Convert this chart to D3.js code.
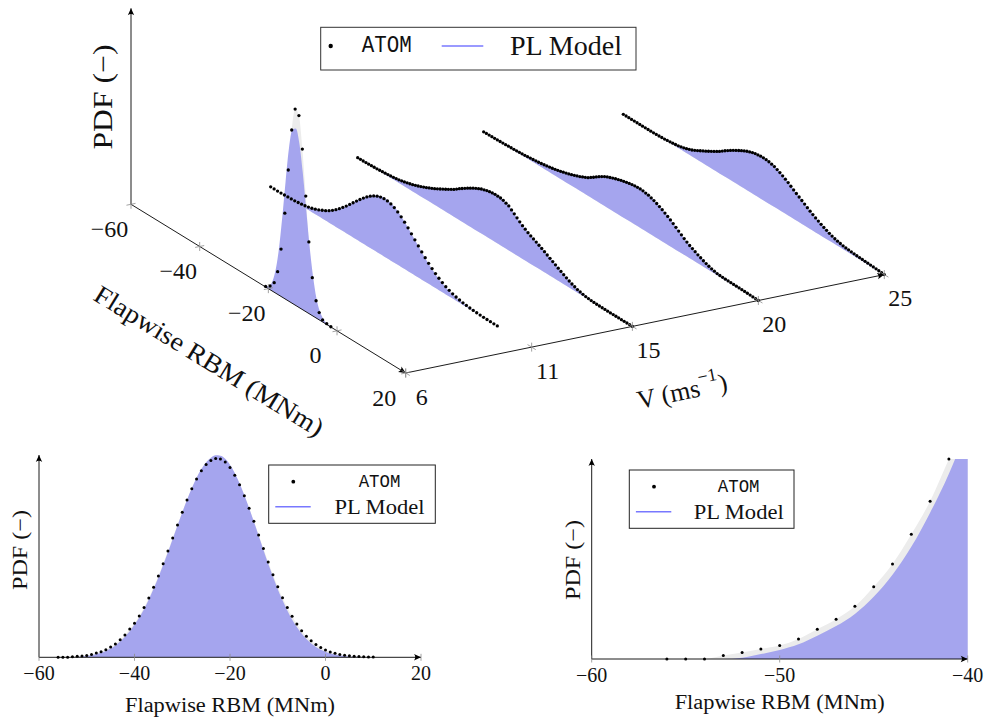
<!DOCTYPE html>
<html><head><meta charset="utf-8">
<script src="https://cdn.jsdelivr.net/npm/d3@7"></script>
<style>
body{margin:0;background:#fff;}
svg text{font-family:"Liberation Serif","DejaVu Serif","Times New Roman",serif;fill:#111;}
svg text.mono{font-family:"Liberation Mono","DejaVu Sans Mono",monospace;}
</style></head><body>
<svg id="chart" width="990" height="722"></svg>
<script>
// ---------- data (PDF values in units of 1e-3 per MNm) ----------
const slicesV = [6, 11, 15, 20, 25];
const rbmTicks3D = [-60, -40, -20, 0, 20];
const vTicks = [6, 11, 15, 20, 25];
const rbmTicksLeft = [-60, -40, -20, 0, 20];
const rbmTicksRight = [-60, -50, -40];

// V = 6 m/s
const rbm6 = [-20.8,-19.5,-18.3,-17.3,-16.3,-15.2,-14.2,-13.2,-12.2,-11.1,-10.1,-9.1,-8.2,-7.2,-6.1,-5.2,-4.2,-3.0,-1.8];
const atom6 = [0.5,3.7,9.6,22.7,47.4,85.6,130.9,173,196,191.8,160.5,115.6,71.6,38,17.2,7.3,2,0.8,0.3];
const plRbm6 = [-22,-21,-20,-19,-18,-17,-16,-15,-14,-13,-12,-11,-10,-9,-8,-7,-6,-5,-4,-3,-2,-1];
const pl6 = [0,0.5,2.5,8,21,44,78,117,153,174,177,165,138,103,68,40,20,9,3.5,1.2,0.4,0.1];

// V = 11 m/s
const rbm11 = d3.range(-56, 11, 1);
const atom11 = [0,0,0,0.14,0.27,0.41,0.55,0.82,1.22,1.63,2.16,2.96,3.9,5.11,6.47,8.2,
  9.87,12.03,14.5,17.27,20.33,23.65,27.18,30.89,34.68,38.48,42.19,45.72,48.96,51.82,54.2,56.02,57.23,57.77,
  57.62,56.74,55.16,52.94,50.16,46.93,43.34,39.52,35.57,31.61,27.73,24.02,20.54,17.34,14.46,11.9,9.66,7.74,6.13,4.8,3.7,2.82,2.12,1.57,1.16,0.84,0.6,0.42,0.29,0.2,0.14,0.09,0.06];
const pl11 = [0,0,0,0,0.05,0.2,0.37,0.6,0.95,1.35,1.85,2.55,3.45,4.6,6.0,7.6,
  9.5,11.6,14.0,16.8,19.9,23.2,26.8,30.5,34.4,38.3,42.1,45.8,49.2,52.2,54.7,56.7,58.0,58.7,
  58.6,57.7,56.0,53.6,50.6,47.2,43.4,39.4,35.3,31.2,27.2,23.4,19.8,16.6,13.6,11.0,8.8,6.9,5.3,4.0,3.0,2.2,1.6,1.1,0.8,0.5,0.35,0.22,0.13,0.07,0.03,0.01,0];

// V = 15 m/s (ATOM sampled every 0.8 MNm from -60)
const rbm15 = d3.range(0, 101).map(k => -60 + 0.8 * k);
const atom15 = [0,0.04,0.08,0.16,0.28,0.4,0.56,0.72,0.92,1.16,1.4,1.68,1.96,2.32,2.76,3.2,3.84,4.48,5.2,6.0,
  6.8,7.8,8.8,9.9,11.1,12.3,13.6,14.9,16.3,17.8,19.3,20.9,22.4,24.0,25.7,27.3,29.3,31.4,33.3,35.2,
  37.0,38.7,40.4,41.9,43.2,44.6,45.5,46.4,47.0,47.4,47.7,47.6,47.4,46.8,45.6,44.5,42.2,40.0,37.7,35.4,
  33.2,31.4,29.6,28.0,26.7,25.3,23.8,22.3,20.7,19.1,17.5,15.9,14.3,12.7,11.1,9.5,8.1,6.6,5.3,4.2,
  3.1,2.4,1.7,1.1,0.8,0.5,0.3,0.2,0.15,0.1,0.05,0,0,0,0,0,0,0,0,0,0];
const plRbm15 = d3.range(-60, 21, 2);
const pl15 = [0,0.1,0.4,0.8,1.4,2.1,3.2,4.8,6.8,9.3,12.3,15.6,19.3,23.2,27.3,32.4,37,41.2,44.6,46.8,
  47.7,47.3,44.5,38.8,33.2,28.7,25.3,21.5,17.5,13.5,9.5,5.9,3.1,1.3,0.5,0.2,0.05,0,0,0,0];

// V = 20 m/s
const rbm20 = d3.range(0, 101).map(k => -60 + 0.8 * k);
const atom20 = [0,0.04,0.08,0.14,0.22,0.3,0.42,0.54,0.66,0.78,0.9,1.06,1.22,1.4,1.6,1.8,2.08,2.36,2.66,2.98,
  3.3,3.74,4.18,4.66,5.18,5.7,6.34,6.98,7.7,8.5,9.3,10.2,11.1,12.1,13.2,14.3,15.6,16.9,18.2,20.2,
  22.0,24.0,26.0,27.8,29.4,30.8,31.9,33.0,34.0,34.9,35.8,36.5,37.2,37.8,38.3,38.8,38.9,39.0,38.8,38.3,
  37.8,36.8,35.8,34.6,33.2,31.8,30.1,28.4,26.6,24.6,22.6,20.5,18.4,16.4,14.6,12.8,11.4,10.0,8.6,7.3,
  6.0,4.9,3.9,3.0,2.3,1.6,1.4,1.2,1.05,0.97,0.9,0.86,0.82,0.78,0.7,0.6,0.48,0.36,0.24,0.12,0];
const plRbm20 = d3.range(-60, 21, 2);
const pl20 = [0,0.1,0.3,0.6,0.9,1.3,1.8,2.5,3.3,4.4,5.7,7.3,9.3,11.6,14.3,17.5,22.0,27.0,30.8,33.5,
  35.8,37.6,38.8,39.0,37.8,35.3,31.8,27.6,22.6,17.3,12.8,9.3,6.0,3.4,1.6,1.1,0.9,0.8,0.6,0.3,0];

// V = 25 m/s (ATOM sampled every 0.8 MNm from -56)
const rbm25 = d3.range(0, 96).map(k => -56 + 0.8 * k);
const atom25 = [0,0,0,0,0,0,0,0,0.01,0.03,0.05,0.1,0.17,0.28,0.44,0.6,0.88,1.16,1.5,1.9,
  2.3,2.98,3.66,4.5,5.5,6.5,7.9,9.3,10.8,12.3,13.8,15.4,17.0,18.6,20.3,22.0,24.0,26.0,27.9,29.7,
  31.5,33.1,34.7,36.2,37.6,39.0,40.0,41.0,41.7,42.1,42.5,42.5,42.4,42.0,41.3,40.5,39.2,37.9,36.4,34.7,
  33.0,31.0,29.0,27.1,25.3,23.5,21.6,19.7,17.9,16.2,14.5,13.0,11.5,10.1,8.8,7.5,6.5,5.5,4.7,4.1,
  3.5,3.1,2.8,2.5,2.25,2.0,1.85,1.7,1.5,1.3,1.1,0.9,0.7,0.5,0.25,0];
const plRbm25 = d3.range(-56, 21, 2);
const pl25 = [0,0,0,0,0.05,0.2,0.6,1.3,2.3,4,6.5,10,13.8,17.8,22,27,31.5,35.5,39,41.5,
  42.5,42.4,40.5,37.3,33,28,23.5,18.8,14.5,10.7,7.5,5,3.5,2.6,2,1.6,1.1,0.6,0];

const sliceData = [
  {v: 6,  rbm: rbm6,  atom: atom6,  plRbm: plRbm6,  pl: pl6},
  {v: 11, rbm: rbm11, atom: atom11, plRbm: rbm11,   pl: pl11},
  {v: 15, rbm: rbm15, atom: atom15, plRbm: plRbm15, pl: pl15},
  {v: 20, rbm: rbm20, atom: atom20, plRbm: plRbm20, pl: pl20},
  {v: 25, rbm: rbm25, atom: atom25, plRbm: plRbm25, pl: pl25}
];

// ---------- styling ----------
const BLUE_FILL = "#a5a5ee", ATOM_FILL = "#ececec", LEG_LINE = "#7878ff", TICK = "#8a8a8a";
const fmt = d => d < 0 ? "\u2212" + Math.abs(d) : String(d);
const zip = (xs, ys) => xs.map((x, i) => [x, ys[i]]);

const svg = d3.select("#chart");
const defs = svg.append("defs");
defs.append("marker").attr("id", "arr").attr("viewBox", "-8 -4 9 8")
  .attr("refX", 0).attr("refY", 0).attr("markerWidth", 9).attr("markerHeight", 8)
  .attr("markerUnits", "userSpaceOnUse").attr("orient", "auto")
  .append("path").attr("d", "M0,0 L-7,-3.2 Q-4.5,0 -7,3.2 Z").attr("fill", "#000");

// ---------- 3-D waterfall ----------
const O = {x: 131, y: 204.3};
const rbmDx = d3.scaleLinear().domain([-60, 20]).range([0, 274.7]);
const rbmDy = d3.scaleLinear().domain([-60, 20]).range([0, 168.7]);
const vDx = d3.scaleLinear().domain([6, 25]).range([0, 478.6]);
const vDy = d3.scaleLinear().domain([6, 25]).range([0, -98.4]);
const zDy = d3.scaleLinear().domain([0, 200]).range([0, -200]);
const P = (r, v, z = 0) => [O.x + rbmDx(r) + vDx(v), O.y + rbmDy(r) + vDy(v) + zDy(z)];

const g3 = svg.append("g");
sliceData.forEach(s => {
  const area = d3.area()
    .x(d => P(d[0], s.v)[0])
    .y0(d => P(d[0], s.v, 0)[1])
    .y1(d => P(d[0], s.v, d[1])[1])
    .curve(d3.curveMonotoneX);
  g3.append("path").attr("d", area(zip(s.rbm, s.atom))).attr("fill", ATOM_FILL);
  g3.append("path").attr("d", area(zip(s.plRbm, s.pl))).attr("fill", BLUE_FILL);
  g3.append("g").selectAll("circle").data(zip(s.rbm, s.atom)).join("circle")
    .attr("cx", d => P(d[0], s.v, d[1])[0]).attr("cy", d => P(d[0], s.v, d[1])[1])
    .attr("r", 1.65).attr("fill", "#000");
});

// axes
const ax3 = svg.append("g").attr("stroke", "#000").attr("stroke-width", 0.9).attr("fill", "none");
const line = d3.line();
ax3.append("path").attr("d", line([P(-60, 6, 0), P(-60, 6, 196)])).attr("marker-end", "url(#arr)");
ax3.append("path").attr("d", line([P(-60, 6, 0), P(20, 6, 0)])).attr("marker-end", "url(#arr)");
ax3.append("path").attr("d", line([P(20, 6, 0), P(20, 25, 0)])).attr("marker-end", "url(#arr)");

const tk = svg.append("g").attr("stroke", TICK).attr("stroke-width", 0.8);
rbmTicks3D.forEach(r => {
  const [x, y] = P(r, 6);
  const [x1, y1] = P(r, 6.18), [x0, y0] = P(r, 5.82);
  tk.append("line").attr("x1", x0).attr("y1", y0).attr("x2", x1).attr("y2", y1);
  tk.append("line").attr("x1", x).attr("y1", y - 4.5).attr("x2", x).attr("y2", y + 4.5);
  svg.append("text").attr("x", x - 21.5).attr("y", y + 24.5).attr("text-anchor", "middle")
    .attr("dominant-baseline", "central").attr("font-size", 24).text(fmt(r));
});
vTicks.forEach(v => {
  const [x, y] = P(20, v);
  const [x0, y0] = P(18.8, v), [x1, y1] = P(21.2, v);
  tk.append("line").attr("x1", x0).attr("y1", y0).attr("x2", x1).attr("y2", y1);
  tk.append("line").attr("x1", x).attr("y1", y - 4.5).attr("x2", x).attr("y2", y + 4.5);
  svg.append("text").attr("x", x + 16).attr("y", y + 23.5).attr("text-anchor", "middle")
    .attr("dominant-baseline", "central").attr("font-size", 24).text(fmt(v));
});

svg.append("text").attr("transform", "translate(103,97) rotate(-90)").attr("text-anchor", "middle")
  .attr("dominant-baseline", "central").attr("font-size", 27)
  .attr("textLength", 105).attr("lengthAdjust", "spacingAndGlyphs").text("PDF (\u2212)");
svg.append("text").attr("transform", "translate(209,361) rotate(31.55)").attr("text-anchor", "middle")
  .attr("dominant-baseline", "central").attr("font-size", 26)
  .attr("textLength", 264).attr("lengthAdjust", "spacingAndGlyphs").text("Flapwise RBM (MNm)");
const vl = svg.append("text").attr("transform", "translate(682,391) rotate(-11.6)").attr("text-anchor", "middle")
  .attr("dominant-baseline", "central").attr("font-size", 26);
vl.append("tspan").text("V (ms");
vl.append("tspan").attr("font-size", 18).attr("baseline-shift", "super").text("\u22121");
vl.append("tspan").text(")");

// 3-D legend
const lg = svg.append("g");
lg.append("rect").attr("x", 320.7).attr("y", 27.3).attr("width", 315.3).attr("height", 42.7)
  .attr("fill", "#fff").attr("stroke", "#333").attr("stroke-width", 1);
lg.append("circle").attr("cx", 330.7).attr("cy", 46).attr("r", 2.2).attr("fill", "#000");
lg.append("text").attr("class", "mono").attr("x", 361.7).attr("y", 46).attr("dominant-baseline", "central")
  .attr("font-size", 23).attr("textLength", 50).attr("lengthAdjust", "spacingAndGlyphs").text("ATOM");
lg.append("line").attr("x1", 441.7).attr("x2", 483.3).attr("y1", 46).attr("y2", 46)
  .attr("stroke", LEG_LINE).attr("stroke-width", 1.6);
lg.append("text").attr("x", 510).attr("y", 46).attr("dominant-baseline", "central")
  .attr("font-size", 27).attr("textLength", 112).attr("lengthAdjust", "spacingAndGlyphs").text("PL Model");

// ---------- 2-D panels (V = 11 m/s) ----------
function panel(cfg) {
  const g = svg.append("g");
  const x = d3.scaleLinear().domain(cfg.xDomain).range(cfg.xRange);
  const y = d3.scaleLinear().domain(cfg.yDomain).range(cfg.yRange);
  const clipId = "clip" + cfg.id;
  defs.append("clipPath").attr("id", clipId).append("rect")
    .attr("x", cfg.xRange[0]).attr("y", cfg.yRange[1])
    .attr("width", cfg.xRange[1] - cfg.xRange[0]).attr("height", cfg.yRange[0] - cfg.yRange[1]);
  const area = d3.area().x(d => x(d[0])).y0(y(0)).y1(d => y(d[1])).curve(d3.curveMonotoneX);
  const inner = g.append("g").attr("clip-path", `url(#${clipId})`);
  inner.append("path").attr("d", area(zip(rbm11, atom11))).attr("fill", ATOM_FILL);
  inner.append("path").attr("d", area(zip(rbm11, pl11))).attr("fill", BLUE_FILL);
  g.append("g").selectAll("circle")
    .data(zip(rbm11, atom11).filter(d => d[0] >= cfg.xDomain[0] && d[0] <= cfg.xDomain[1] && d[1] <= cfg.yDomain[1] * 1.001))
    .join("circle").attr("cx", d => x(d[0])).attr("cy", d => y(d[1])).attr("r", 1.5).attr("fill", "#000");
  const y0 = y(0);
  g.append("line").attr("x1", cfg.xRange[0]).attr("x2", cfg.xRange[1]).attr("y1", y0).attr("y2", y0)
    .attr("stroke", "#000").attr("stroke-width", 0.9).attr("marker-end", "url(#arr)");
  g.append("line").attr("x1", cfg.xRange[0]).attr("x2", cfg.xRange[0]).attr("y1", y0).attr("y2", cfg.yRange[1])
    .attr("stroke", "#000").attr("stroke-width", 0.9).attr("marker-end", "url(#arr)");
  cfg.ticks.forEach(t => {
    g.append("line").attr("x1", x(t)).attr("x2", x(t)).attr("y1", y0 - 3.5).attr("y2", y0 + 3.5)
      .attr("stroke", TICK).attr("stroke-width", 0.8);
    g.append("text").attr("x", x(t)).attr("y", y0 + cfg.tickDy).attr("text-anchor", "middle")
      .attr("dominant-baseline", "central").attr("font-size", 20).text(fmt(t));
  });
  g.append("text").attr("x", d3.mean(cfg.xRange)).attr("y", cfg.xLabelY).attr("text-anchor", "middle")
    .attr("dominant-baseline", "central").attr("font-size", 20)
    .attr("textLength", 210).attr("lengthAdjust", "spacingAndGlyphs").text("Flapwise RBM (MNm)");
  g.append("text").attr("transform", `translate(${cfg.yLabelX},${cfg.yLabelY}) rotate(-90)`)
    .attr("text-anchor", "middle").attr("dominant-baseline", "central").attr("font-size", 21)
    .attr("textLength", 80).attr("lengthAdjust", "spacingAndGlyphs").text("PDF (\u2212)");
  const L = cfg.legend;
  g.append("rect").attr("x", L.x).attr("y", L.y).attr("width", L.w).attr("height", L.h)
    .attr("fill", "#fff").attr("stroke", "#222").attr("stroke-width", 1);
  g.append("circle").attr("cx", L.x + L.symX).attr("cy", L.y + 16.7).attr("r", 1.9).attr("fill", "#000");
  g.append("text").attr("class", "mono").attr("x", L.x + L.textX).attr("y", L.y + 16.7).attr("text-anchor", "middle")
    .attr("dominant-baseline", "central").attr("font-size", 19).attr("textLength", 41.7)
    .attr("lengthAdjust", "spacingAndGlyphs").text("ATOM");
  g.append("line").attr("x1", L.x + 6.6).attr("x2", L.x + 42).attr("y1", L.y + 41.7).attr("y2", L.y + 41.7)
    .attr("stroke", LEG_LINE).attr("stroke-width", 1.6);
  g.append("text").attr("x", L.x + L.textX).attr("y", L.y + 41.7).attr("text-anchor", "middle")
    .attr("dominant-baseline", "central").attr("font-size", 21).attr("textLength", 90)
    .attr("lengthAdjust", "spacingAndGlyphs").text("PL Model");
}

panel({id: "L", xDomain: [-60, 20], xRange: [39, 421], yDomain: [0, 58.8], yRange: [657.3, 455],
  ticks: rbmTicksLeft, tickDy: 15.5, xLabelY: 705, yLabelX: 20, yLabelY: 550,
  legend: {x: 268.7, y: 465, w: 166.6, h: 58.3, symX: 24.6, textX: 110.8}});
panel({id: "R", xDomain: [-60, -40], xRange: [591.7, 967.7], yDomain: [0, 8.2], yRange: [659, 459],
  ticks: rbmTicksRight, tickDy: 16, xLabelY: 701.7, yLabelX: 573.3, yLabelY: 560,
  legend: {x: 629.3, y: 470, w: 164.7, h: 58.3, symX: 24.7, textX: 109.4}});
</script></body></html>
